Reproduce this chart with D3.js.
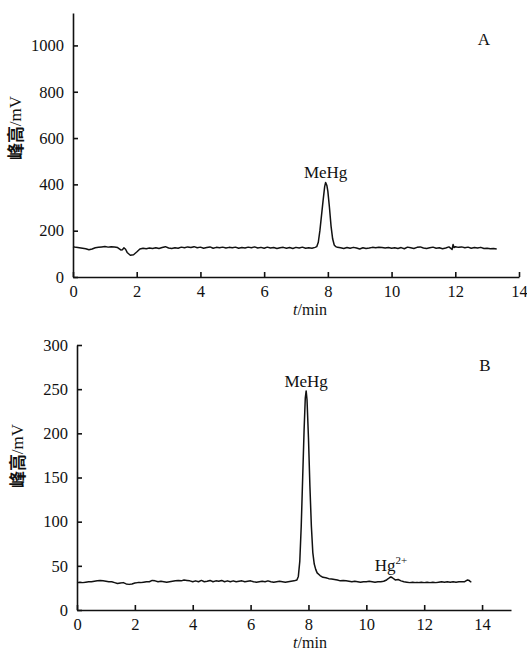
<!DOCTYPE html>
<html><head><meta charset="utf-8">
<script src="https://cdn.jsdelivr.net/npm/d3@7/dist/d3.min.js"></script>
<style>
body{margin:0;background:#fff;}
svg text{font-family:"Liberation Serif","Times New Roman",Times,serif;fill:#111;}
</style></head>
<body><svg id="c" width="527" height="652"></svg>
<script>
// ---- data ----
const timeA = [0,0.1,0.2,0.3,0.4,0.5,0.6,0.7,0.8,0.9,1.0,1.1,1.2,1.3,1.4,1.5,1.55,1.6,1.65,1.7,1.8,1.9,2.0,2.1,2.2,2.3,2.4,2.5,2.6,2.7,2.8,2.9,3.0,3.1,3.2,3.3,3.4,3.5,3.6,3.7,3.8,3.9,4.0,4.1,4.2,4.3,4.4,4.5,4.6,4.7,4.8,4.9,5.0,5.1,5.2,5.3,5.4,5.5,5.6,5.7,5.8,5.9,6.0,6.1,6.2,6.3,6.4,6.5,6.6,6.7,6.8,6.9,7.0,7.1,7.2,7.3,7.4,7.5,7.6,7.65,7.7,7.75,7.8,7.85,7.9,7.93,7.97,8.0,8.05,8.1,8.15,8.2,8.25,8.3,8.4,8.5,8.6,8.7,8.8,8.9,9.0,9.1,9.2,9.3,9.4,9.5,9.6,9.7,9.8,9.9,10.0,10.1,10.2,10.3,10.4,10.5,10.6,10.7,10.8,10.9,11.0,11.1,11.2,11.3,11.4,11.5,11.6,11.7,11.8,11.9,11.93,11.96,12.0,12.1,12.2,12.3,12.4,12.5,12.6,12.7,12.8,12.9,13.0,13.1,13.2,13.3];
const signalA = [131,128,126,124,122,118,121,126,128,130,132,129,131,130,127,117,118,126,120,106,94,96,108,121,124,122,125,123,126,123,127,131,125,123,126,124,129,126,130,127,131,126,129,124,127,130,124,128,126,129,125,128,126,129,124,127,125,129,126,130,125,128,124,129,125,127,123,126,128,124,127,123,128,125,129,124,126,124,128,131,150,200,265,330,390,408,395,370,300,220,165,138,131,128,126,123,127,124,128,125,121,126,123,125,128,126,128,127,125,127,124,126,123,127,122,129,126,123,128,130,125,123,126,129,124,126,122,125,130,119,140,127,131,128,130,126,129,124,127,125,128,123,124,122,123,121];

const timeB = [0,0.1,0.2,0.3,0.4,0.5,0.6,0.7,0.8,0.9,1.0,1.1,1.2,1.3,1.4,1.5,1.6,1.7,1.8,1.9,2.0,2.1,2.2,2.3,2.4,2.5,2.6,2.7,2.8,2.9,3.0,3.1,3.2,3.3,3.4,3.5,3.6,3.7,3.8,3.9,4.0,4.1,4.2,4.3,4.4,4.5,4.6,4.7,4.8,4.9,5.0,5.1,5.2,5.3,5.4,5.5,5.6,5.7,5.8,5.9,6.0,6.1,6.2,6.3,6.4,6.5,6.6,6.7,6.8,6.9,7.0,7.1,7.2,7.3,7.4,7.5,7.6,7.65,7.7,7.75,7.8,7.85,7.89,7.92,7.95,8.0,8.05,8.1,8.15,8.2,8.25,8.3,8.4,8.5,8.6,8.7,8.8,8.9,9.0,9.1,9.2,9.3,9.4,9.5,9.6,9.7,9.8,9.9,10.0,10.1,10.2,10.3,10.4,10.5,10.6,10.7,10.8,10.85,10.9,11.0,11.1,11.2,11.3,11.4,11.5,11.6,11.7,11.8,11.9,12.0,12.1,12.2,12.3,12.4,12.5,12.6,12.7,12.8,12.9,13.0,13.1,13.2,13.3,13.4,13.5,13.55,13.6,13.63];
const signalB = [31,31.5,31,31.5,32,32,32.5,33,33.5,33,32.5,32,32,31,30,30.5,31,29.5,29,29.5,30.5,31,31,31.5,32,32,33.5,33,32,32.5,32,31.5,32,32.5,33,33.5,33,34,33.5,33,32,33,32,33.5,32,32.5,33.5,32,33,32.5,33.5,32,33,32,33,32,32.5,33,32,32.5,33,32,31.5,32,32.5,32,33,32,31.5,32,32.5,32,31.5,32,32.5,33,34,38,55,95,150,205,240,248,238,195,140,95,65,52,46,42,39,37,36.5,35.5,35,34.5,34,33,33.5,33,32.5,32,32.5,32,31.5,32,32,32.5,32,31.5,32,32,32.5,34,36.5,37.5,36.5,34,34.5,33,32,31.5,31,31.5,31,31,31.5,31,31.5,31,31.5,31,31.5,32,31.5,32,31.5,32,31.5,32,32,32,34,33.5,32,32];

const xTicksA = [0,2,4,6,8,10,12,14];
const yTicksA = [0,200,400,600,800,1000];
const xTicksB = [0,2,4,6,8,10,12,14];
const yTicksB = [0,50,100,150,200,250,300];

const SERIF = '"Liberation Serif","Times New Roman",Times,serif';
const svg = d3.select("#c");

function panel(opt){
  const x = d3.scaleLinear().domain(opt.xDom).range(opt.xR);
  const y = d3.scaleLinear().domain(opt.yDom).range(opt.yR);
  const g = svg.append("g");
  const xa = g.append("g").attr("transform",`translate(0,${opt.yR[0]})`)
    .call(d3.axisBottom(x).tickValues(opt.xT).tickSizeInner(-5).tickSizeOuter(0).tickPadding(8).tickFormat(d3.format("d")));
  const ya = g.append("g").attr("transform",`translate(${opt.xR[0]},0)`)
    .call(d3.axisLeft(y).tickValues(opt.yT).tickSizeInner(-5).tickSizeOuter(0).tickPadding(9).tickFormat(d3.format("d")));
  [xa,ya].forEach(a=>{
    a.attr("font-family",SERIF).attr("font-size",16);
    a.select(".domain").attr("stroke","#111").attr("stroke-width",1.6);
    a.selectAll(".tick line").attr("stroke","#111").attr("stroke-width",1.6);
    a.selectAll(".tick text").style("font-family",SERIF).style("font-size","16.5px").attr("fill","#111");
  });
  const line = d3.line().x(d=>x(d[0])).y(d=>y(d[1]));
  g.append("path").datum(opt.t.map((t,i)=>[t,opt.v[i]]))
    .attr("d",line).attr("fill","none").attr("stroke","#111").attr("stroke-width",1.5).attr("stroke-linejoin","round");
  // y label
  const yl = g.append("text").attr("transform",`translate(${opt.ylx},${opt.yly}) rotate(-90)`)
    .attr("text-anchor","middle").attr("dominant-baseline","middle").style("font-size","17px");
  yl.append("tspan").text("峰高").style("font-family",'"Noto Sans CJK SC",sans-serif').style("font-weight","bold");
  yl.append("tspan").text("/mV");
  // x label
  const xl = g.append("text").attr("x",opt.xlx).attr("y",opt.xly).attr("text-anchor","middle").style("font-size","16px");
  xl.append("tspan").text("t").style("font-style","italic");
  xl.append("tspan").text("/min");
  return {x,y,g};
}

const A = panel({xDom:[0,14],xR:[73,519],yDom:[0,1140],yR:[277,13],xT:xTicksA,yT:yTicksA,t:timeA,v:signalA,
  ylx:17,yly:128,xlx:310,xly:315});
A.g.append("text").attr("x",484).attr("y",45).attr("text-anchor","middle").style("font-size","17px").text("A");
A.g.append("text").attr("x",A.x(7.93)).attr("y",A.y(408)-5).attr("text-anchor","middle").style("font-size","17px").text("MeHg");

const B = panel({xDom:[0,15],xR:[77,511],yDom:[0,300],yR:[610,345],xT:xTicksB,yT:yTicksB,t:timeB,v:signalB,
  ylx:19,yly:456,xlx:310,xly:648});
B.g.append("text").attr("x",485).attr("y",371).attr("text-anchor","middle").style("font-size","17px").text("B");
B.g.append("text").attr("x",B.x(7.92)).attr("y",B.y(248)-4).attr("text-anchor","middle").style("font-size","17px").text("MeHg");
const hg = B.g.append("text").attr("x",B.x(10.85)).attr("y",B.y(37.5)-6).attr("text-anchor","middle").style("font-size","17px");
hg.append("tspan").text("Hg");
hg.append("tspan").text("2+").attr("dy",-7).style("font-size","11px");
</script></body></html>
